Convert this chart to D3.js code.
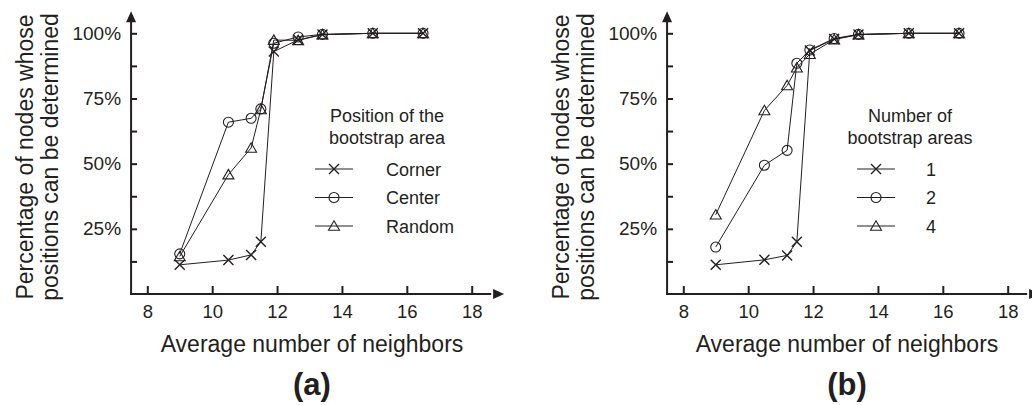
<!DOCTYPE html>
<html>
<head>
<meta charset="utf-8">
<script src="https://cdn.jsdelivr.net/npm/d3@7"></script>
<style>
  body { margin: 0; background: #fff; }
  svg { display: block; }
  text { font-family: "Liberation Sans", Arial, sans-serif; fill: #231f20; }
</style>
</head>
<body>
<div id="chart"></div>
<script>
// shared x values (average number of neighbors)
var neighbors = [9, 10.5, 11.2, 11.5, 11.9, 12.65, 13.4, 14.95, 16.5];

// panel (a): position of the bootstrap area
var cornerPct = [11.2, 13, 15, 20, 93, 97.5, 99.5, 100, 100];
var centerPct = [15.4, 65.9, 67.4, 71, 96.2, 98.6, 99.6, 100, 100];
var randomPct = [14.4, 45.8, 56, 70.8, 97.4, 97.3, 99.5, 100, 100];

// panel (b): number of bootstrap areas
var oneAreaPct = [11.2, 13.1, 14.8, 20, 93.4, 97.8, 99.5, 100, 100];
var twoAreaPct = [18, 49.4, 55.1, 88.5, 93.6, 98, 99.6, 100, 100];
var fourAreaPct = [30.4, 70.4, 80, 86.8, 92, 97.6, 99.5, 100, 100];

var xTicks = [8, 10, 12, 14, 16, 18];
var yTicks = [12.5, 25, 37.5, 50, 62.5, 75, 87.5, 100];
var yLabelTicks = [25, 50, 75, 100];

var panels = [
  {
    letter: "(a)", left: 147.3, xTitleX: 312, titleX: 33,
    legendTitle: ["Position of the", "bootstrap area"], legendTitleX: 387,
    legendLineX: 315, legendTextX: 386,
    names: ["Corner", "Center", "Random"],
    series: [cornerPct, centerPct, randomPct]
  },
  {
    letter: "(b)", left: 683.3, xTitleX: 847, titleX: 569,
    legendTitle: ["Number of", "bootstrap areas"], legendTitleX: 910,
    legendLineX: 857, legendTextX: 926,
    names: ["1", "2", "4"],
    series: [oneAreaPct, twoAreaPct, fourAreaPct]
  }
];
var shapes = ["cross", "circle", "triangle"];

var width = 1032, height = 405;
var ink = "#231f20";

var svg = d3.select("#chart").append("svg")
  .attr("width", width).attr("height", height);

var y = d3.scaleLinear().domain([0, 100]).range([294, 33.3]);

function drawMarker(g, shape, cx, cy, s) {
  if (shape == "cross") {
    g.append("path")
      .attr("d", "M" + (cx - s) + "," + (cy - s) + "L" + (cx + s) + "," + (cy + s) +
                 "M" + (cx - s) + "," + (cy + s) + "L" + (cx + s) + "," + (cy - s))
      .attr("stroke", ink).attr("stroke-width", 1.4).attr("fill", "none");
  } else if (shape == "circle") {
    g.append("circle").attr("cx", cx).attr("cy", cy).attr("r", s)
      .attr("stroke", ink).attr("stroke-width", 1.1).attr("fill", "none");
  } else {
    var h = s * 1.9;
    g.append("path")
      .attr("d", "M" + cx + "," + (cy - h * 0.55) + "L" + (cx + s * 1.1) + "," + (cy + h * 0.45) +
                 "L" + (cx - s * 1.1) + "," + (cy + h * 0.45) + "Z")
      .attr("stroke", ink).attr("stroke-width", 1.1).attr("fill", "none");
  }
}

panels.forEach(function(p) {
  var x = d3.scaleLinear().domain([8, 18]).range([p.left, p.left + 324.4]);
  var g = svg.append("g");

  // y axis ticks + labels
  g.append("g")
    .attr("transform", "translate(" + x(7.5) + ",0)")
    .call(d3.axisLeft(y).tickValues(yTicks).tickSize(-6).tickPadding(10)
      .tickFormat(function(d) { return yLabelTicks.indexOf(d) >= 0 ? d + "%" : ""; }))
    .call(function(a) {
      a.select(".domain").remove();
      a.selectAll("line").attr("stroke", ink).attr("stroke-width", 2);
      a.selectAll("text").attr("font-size", 19).attr("fill", ink)
        .style("font-family", "'Liberation Sans', Arial, sans-serif");
    });

  // x axis ticks + labels
  g.append("g")
    .attr("transform", "translate(0," + y(0) + ")")
    .call(d3.axisBottom(x).tickValues(xTicks).tickSize(-8).tickPadding(11))
    .call(function(a) {
      a.select(".domain").remove();
      a.selectAll("line").attr("stroke", ink).attr("stroke-width", 2);
      a.selectAll("text").attr("font-size", 18.5).attr("fill", ink)
        .style("font-family", "'Liberation Sans', Arial, sans-serif");
    });

  // axis lines with arrows
  var x0 = x(7.5), y0 = y(0);
  g.append("line").attr("x1", x0).attr("y1", y0 + 1).attr("x2", x0).attr("y2", y(104.5))
    .attr("stroke", ink).attr("stroke-width", 2);
  g.append("line").attr("x1", x0 - 1).attr("y1", y0).attr("x2", x(18.6)).attr("y2", y0)
    .attr("stroke", ink).attr("stroke-width", 2);
  var ty = y(108.5);
  g.append("path").attr("d", "M" + x0 + "," + ty + "L" + (x0 + 5) + "," + (ty + 11) + "L" + (x0 - 5) + "," + (ty + 11) + "Z")
    .attr("fill", ink);
  var tx = x(19);
  g.append("path").attr("d", "M" + tx + "," + y0 + "L" + (tx - 11) + "," + (y0 - 5) + "L" + (tx - 11) + "," + (y0 + 5) + "Z")
    .attr("fill", ink);

  // series lines
  var line = d3.line().x(function(d) { return x(d[0]); }).y(function(d) { return y(d[1]); });
  p.series.forEach(function(vals) {
    var pts = neighbors.map(function(n, i) { return [n, vals[i]]; });
    g.append("path").attr("d", line(pts)).attr("fill", "none")
      .attr("stroke", ink).attr("stroke-width", 1);
  });
  p.series.forEach(function(vals, k) {
    neighbors.forEach(function(n, i) {
      drawMarker(g, shapes[k], x(n), y(vals[i]), 5);
    });
  });

  // legend
  p.legendTitle.forEach(function(t, i) {
    g.append("text").attr("x", p.legendTitleX).attr("y", 122 + i * 22)
      .attr("text-anchor", "middle").attr("font-size", 18).text(t);
  });
  p.names.forEach(function(name, k) {
    var ly = 169 + k * 28.5;
    g.append("line").attr("x1", p.legendLineX).attr("x2", p.legendLineX + 38)
      .attr("y1", ly).attr("y2", ly).attr("stroke", ink).attr("stroke-width", 1);
    drawMarker(g, shapes[k], p.legendLineX + 19, ly, 5);
    g.append("text").attr("x", p.legendTextX).attr("y", ly + 6.5)
      .attr("font-size", 18).text(name);
  });

  // axis titles
  g.append("text").attr("x", p.xTitleX).attr("y", 352).attr("text-anchor", "middle")
    .attr("font-size", 23).text("Average number of neighbors");
  var yt = g.append("text").attr("transform", "translate(" + p.titleX + ",157) rotate(-90)")
    .attr("text-anchor", "middle").attr("font-size", 23);
  yt.append("tspan").attr("x", 0).attr("y", 0).text("Percentage of nodes whose");
  yt.append("tspan").attr("x", 0).attr("y", 24.5).text("positions can be determined");

  g.append("text").attr("x", p.xTitleX).attr("y", 395).attr("text-anchor", "middle")
    .attr("font-size", 31).attr("font-weight", "bold").text(p.letter);
});
</script>
</body>
</html>
